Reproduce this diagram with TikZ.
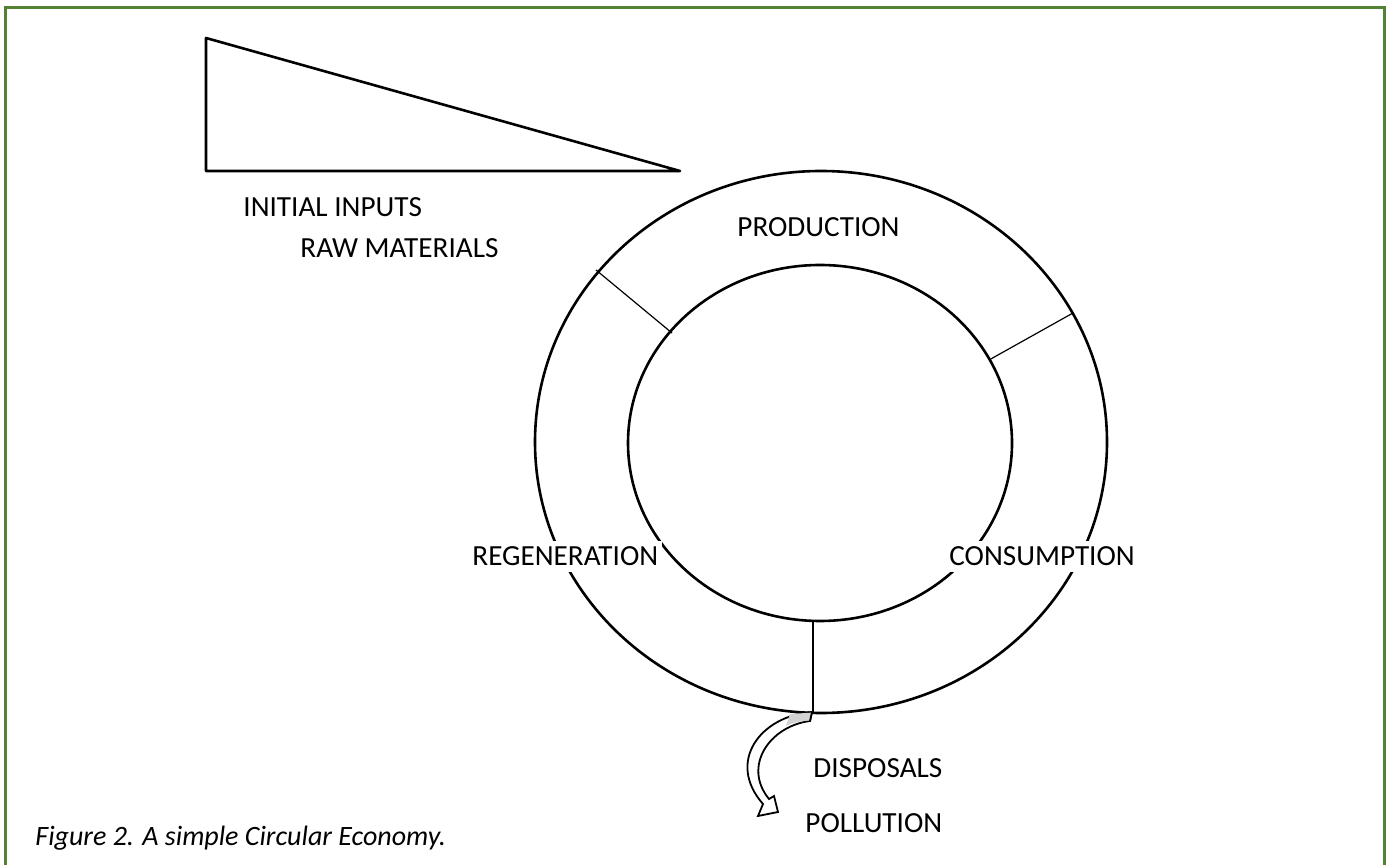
\documentclass[tikz,border=0pt]{standalone}
\usepackage{fontspec}
\setmainfont{Carlito}
\begin{document}
\begin{tikzpicture}[x=0.5pt,y=-0.5pt,
  ring/.style={line width=1.3pt},
  divider/.style={line width=0.6pt},
  lbl/.style={anchor=base west,inner sep=0pt,font=\fontsize{14.6pt}{16pt}\selectfont},
  lblw/.style={lbl,fill=white,inner xsep=2pt,inner ysep=3pt},
  frame/.style={draw=framegreen,line width=1.5pt}]
\definecolor{framegreen}{RGB}{84,130,53}
\useasboundingbox (0,0) rectangle (1387,865);
\fill[white] (0,0) rectangle (1387,865);
\draw[frame] (5.5,7.5) rectangle (1384.5,880);

% input wedge
\draw[line width=1.3pt,line join=round] (206,38) -- (206,171) -- (680,171) -- cycle;
\node[lbl] (inputs) at (243,217) {INITIAL INPUTS};
\node[lbl] (raw) at (300,258) {RAW MATERIALS};

% the cycle: outer and inner rings
\draw[ring] (821,442) ellipse [x radius=286, y radius=271];
\draw[ring] (820,443) ellipse [x radius=192, y radius=178];

% sector dividers
\coordinate (d1o) at (596,270);
\coordinate (d1i) at (672,333);
\coordinate (d2o) at (1073,313);
\coordinate (d2i) at (989,360);
\coordinate (d3i) at (813,621);
\coordinate (d3o) at (813,713);
\draw[divider] (d1o) -- (d1i);
\draw[divider] (d2o) -- (d2i);
\draw[divider] (d3i) -- (d3o);

% stage labels
\node[lbl] (prod) at (737,237) {PRODUCTION};
\node[lblw] (regen) at (468,566) {REGENERATION};
\node[lblw] (cons) at (945,566) {CONSUMPTION};

% curved outflow arrow
\draw[line width=0.9pt,fill=white,line join=miter]
  (812,712) .. controls (760,716) and (726,762) .. (763,804)
  -- (758,816) -- (778,812) -- (774,796) -- (769,799)
  .. controls (742,766) and (770,726) .. (810,721) -- cycle;
\fill[gray!35] (790,714) -- (812,712.6) -- (810,720.4) .. controls (800,721) and (792,723) .. (786,726) -- cycle;
\draw[line width=0.9pt] (812,712) -- (810,721);

\node[lbl] (disp) at (813,777) {DISPOSALS};
\node[lbl] (poll) at (805,832) {POLLUTION};

% caption
\node[lbl,font=\fontsize{14pt}{16pt}\selectfont\itshape] (cap) at (35,845) {Figure 2. A simple Circular Economy.};
\end{tikzpicture}
\end{document}
